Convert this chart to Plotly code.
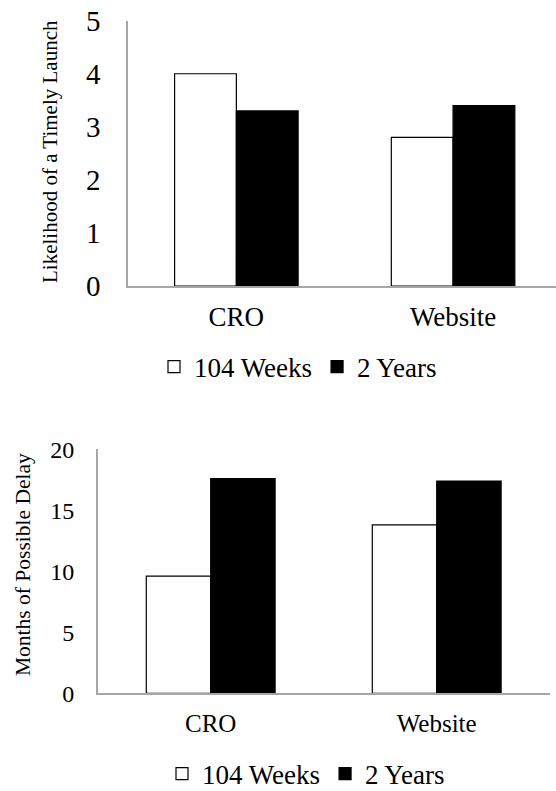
import plotly.graph_objects as go

# Data
categories = ["CRO", "Website"]
series_names = ["104 Weeks", "2 Years"]
likelihood_104_weeks = [4.0, 2.8]
likelihood_2_years = [3.3, 3.4]
delay_104_weeks = [9.6, 13.8]
delay_2_years = [17.6, 17.4]
likelihood_ticks = [0, 1, 2, 3, 4, 5]
delay_ticks = [0, 5, 10, 15, 20]

W, H = 556, 791
FONT = "Times New Roman, Liberation Serif, DejaVu Serif, serif"
AXIS_GREY = "#a6a6a6"


def py(px):
    """Convert a pixel row (from top) into paper coordinates."""
    return 1 - px / H


def px_x(px):
    return px / W


fig = go.Figure()

styles = [
    dict(fill="white", line="black"),
    dict(fill="black", line="black"),
]

# Top chart: likelihood of a timely launch
for name, vals, st in zip(series_names, [likelihood_104_weeks, likelihood_2_years], styles):
    fig.add_trace(go.Bar(
        x=categories, y=vals, name=name,
        marker=dict(color=st["fill"], line=dict(color=st["line"], width=1.2)),
        xaxis="x", yaxis="y", legend="legend",
    ))

# Bottom chart: months of possible delay
for name, vals, st in zip(series_names, [delay_104_weeks, delay_2_years], styles):
    fig.add_trace(go.Bar(
        x=categories, y=vals, name=name,
        marker=dict(color=st["fill"], line=dict(color=st["line"], width=1.2)),
        xaxis="x2", yaxis="y2", legend="legend2",
    ))

common_x = dict(
    type="category", showgrid=False, zeroline=False, automargin=False,
    showline=True, linecolor=AXIS_GREY, linewidth=1.5, ticks="",
)
common_y = dict(
    showgrid=False, zeroline=False, automargin=False,
    showline=True, linecolor=AXIS_GREY, linewidth=1.5,
    ticks="", ticklabelstandoff=17,
)

fig.update_layout(
    width=W, height=H,
    margin=dict(l=0, r=0, t=0, b=0, autoexpand=False),
    paper_bgcolor="white", plot_bgcolor="white",
    font=dict(family=FONT, color="black"),
    barmode="group", bargap=0.43, bargroupgap=0,
    xaxis=dict(common_x, domain=[px_x(128), 1.0], range=[-0.5, 1.475], anchor="y",
               tickfont=dict(family=FONT, size=27, color="black"), ticklabelstandoff=6),
    yaxis=dict(common_y, domain=[py(286), py(20.7)], range=[0, 5],
               tickvals=likelihood_ticks, tickfont=dict(family=FONT, size=29, color="black"),
               ticklabelstandoff=20, anchor="x"),
    xaxis2=dict(common_x, domain=[px_x(97.7), px_x(549.7)], range=[-0.5, 1.5], anchor="y2",
                tickfont=dict(family=FONT, size=25, color="black"), ticklabelstandoff=7),
    yaxis2=dict(common_y, domain=[py(693.3), py(449.3)], range=[0, 20],
                tickvals=delay_ticks, tickfont=dict(family=FONT, size=24, color="black"),
                anchor="x2"),
    legend=dict(orientation="h", x=px_x(298), xanchor="center", y=py(367), yanchor="middle",
                font=dict(family=FONT, size=27, color="black"), itemwidth=30,
                bgcolor="rgba(0,0,0,0)"),
    legend2=dict(orientation="h", x=px_x(306), xanchor="center", y=py(774), yanchor="middle",
                 font=dict(family=FONT, size=27, color="black"), itemwidth=30,
                 bgcolor="rgba(0,0,0,0)"),
    annotations=[
        dict(text="Likelihood of a Timely Launch", xref="paper", yref="paper",
             x=px_x(50), y=py(152), textangle=-90, showarrow=False,
             xanchor="center", yanchor="middle",
             font=dict(family=FONT, size=21, color="black")),
        dict(text="Months of Possible Delay", xref="paper", yref="paper",
             x=px_x(23), y=py(565), textangle=-90, showarrow=False,
             xanchor="center", yanchor="middle",
             font=dict(family=FONT, size=21.5, color="black")),
    ],
)

fig.write_html("out.html")
